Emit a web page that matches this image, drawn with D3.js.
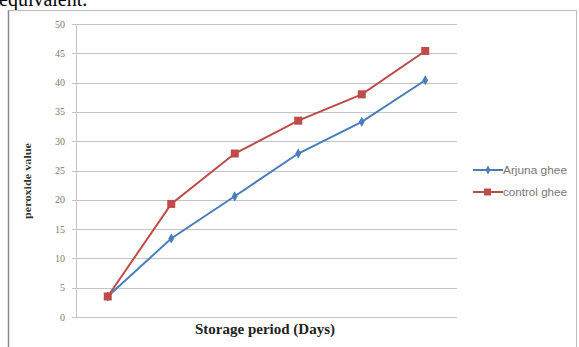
<!DOCTYPE html>
<html><head><meta charset="utf-8">
<script src="https://cdn.jsdelivr.net/npm/d3@7"></script>
<style>body{margin:0;background:#fff;}svg{display:block;}</style>
</head><body>
<svg id="c" width="579" height="347"></svg>
<script>
const categories = ["0","15","30","45","60","75"];
const arjunaGhee = [3.5, 13.4, 20.6, 27.9, 33.3, 40.4];
const controlGhee = [3.5, 19.3, 27.9, 33.5, 38.0, 45.4];
const yTicks = [0,5,10,15,20,25,30,35,40,45,50];
const seriesNames = ["Arjuna ghee","control ghee"];

const svg = d3.select("#c");
// caption fragment from the page above
svg.append("text").attr("x",-1).attr("y",6).attr("font-family","Liberation Serif, serif")
  .attr("font-size",20).attr("fill","#000").text("equivalent.");

// chart frame
svg.append("rect").attr("x",8.5).attr("y",10.5).attr("width",568).attr("height",345)
  .attr("fill","#fff").attr("stroke","#bdbdbd").attr("stroke-width",1);
svg.append("line").attr("x1",8.5).attr("x2",8.5).attr("y1",10).attr("y2",347).attr("stroke","#8a8a8a").attr("stroke-width",1.5);

const L=76, R=457, T=24, B=317;
const x = d3.scaleBand().domain(categories).range([L,R]);
const y = d3.scaleLinear().domain([0,50]).range([B,T]);

// gridlines
svg.append("g").selectAll("line").data(yTicks).join("line")
  .attr("x1",L-4).attr("x2",R).attr("y1",d=>Math.round(y(d))+0.5).attr("y2",d=>Math.round(y(d))+0.5)
  .attr("stroke","#c4c4c4").attr("stroke-width",1);
// y axis line
svg.append("line").attr("x1",L+0.5).attr("x2",L+0.5).attr("y1",T).attr("y2",B).attr("stroke","#c4c4c4");

// y tick labels
svg.append("g").selectAll("text").data(yTicks).join("text")
  .attr("x",65).attr("y",d=>y(d)+3.5).attr("text-anchor","end")
  .attr("font-family","Liberation Serif, serif").attr("font-size",10).attr("fill","#7a7a7a").text(d=>d);

// axis titles
svg.append("text").attr("transform","translate(31,181) rotate(-90)").attr("text-anchor","middle")
  .attr("font-family","Liberation Serif, serif").attr("font-weight","bold").attr("font-size",11).attr("fill","#333")
  .attr("textLength",76).attr("lengthAdjust","spacingAndGlyphs")
  .text("peroxide value");
svg.append("text").attr("x",265).attr("y",334).attr("text-anchor","middle")
  .attr("font-family","Liberation Serif, serif").attr("font-weight","bold").attr("font-size",15).attr("fill","#222")
  .text("Storage period (Days)");

const cx = d=>x(d)+x.bandwidth()/2;
const line = d3.line().x((d,i)=>cx(categories[i])).y(d=>y(d));
const colors = ["#4a7ebb","#be4b48"];

[arjunaGhee, controlGhee].forEach((vals,si)=>{
  svg.append("path").datum(vals).attr("d",line).attr("fill","none")
    .attr("stroke",colors[si]).attr("stroke-width",2);
});
// markers
svg.append("g").selectAll("path").data(arjunaGhee).join("path")
  .attr("d",d3.symbol(d3.symbolDiamond,30)).attr("transform",(d,i)=>`translate(${cx(categories[i])},${y(d)})`)
  .attr("fill",colors[0]);
svg.append("g").selectAll("rect").data(controlGhee).join("rect")
  .attr("x",(d,i)=>cx(categories[i])-4).attr("y",d=>y(d)-4).attr("width",8).attr("height",8)
  .attr("fill",colors[1]);

// legend
const lg = svg.append("g");
seriesNames.forEach((n,i)=>{
  const ly = 170 + i*22;
  lg.append("line").attr("x1",473).attr("x2",503).attr("y1",ly).attr("y2",ly).attr("stroke",colors[i]).attr("stroke-width",2);
  if(i===0) lg.append("path").attr("d",d3.symbol(d3.symbolDiamond,24)).attr("transform",`translate(488,${ly})`).attr("fill",colors[0]);
  else lg.append("rect").attr("x",484).attr("y",ly-3.5).attr("width",7).attr("height",7).attr("fill",colors[1]);
  lg.append("text").attr("x",503).attr("y",ly+3.5).attr("font-family","Liberation Sans, sans-serif")
    .attr("font-size",10.5).attr("fill","#777").attr("textLength",64).attr("lengthAdjust","spacingAndGlyphs").text(n);
});
</script>
</body></html>
